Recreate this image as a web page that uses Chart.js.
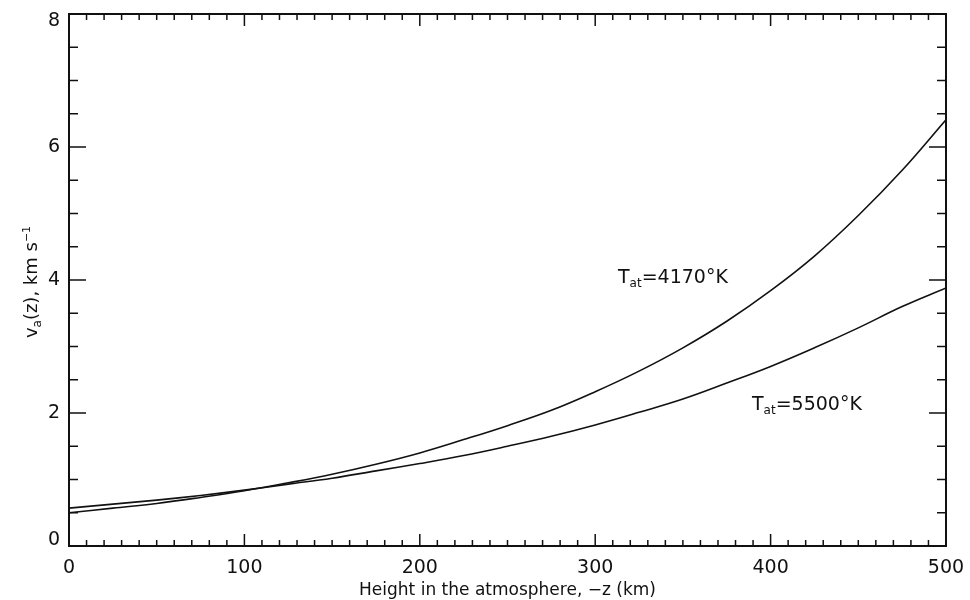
<!DOCTYPE html>
<html>
<head>
<meta charset="utf-8">
<script src="https://cdn.jsdelivr.net/npm/chart.js@4/dist/chart.umd.min.js"></script>
<style>
  html, body { margin: 0; padding: 0; background: #fff; }
  #wrap { width: 970px; height: 600px; }
</style>
</head>
<body>
<div id="wrap"><canvas id="chart" width="970" height="600"></canvas></div>
<script>
// heights (km) and v_a(z) for the two atmosphere temperatures
const heights = [0, 25, 50, 75, 100, 125, 150, 175, 200, 225, 250, 275, 300, 325, 350, 375, 400, 425, 450, 475, 500];
const v4170 = [0.50, 0.57, 0.64, 0.73, 0.83, 0.95, 1.08, 1.23, 1.40, 1.60, 1.81, 2.04, 2.32, 2.63, 2.98, 3.38, 3.84, 4.36, 4.97, 5.65, 6.41];
const v5500 = [0.57, 0.63, 0.69, 0.76, 0.84, 0.93, 1.02, 1.13, 1.24, 1.36, 1.50, 1.65, 1.82, 2.01, 2.21, 2.45, 2.70, 2.98, 3.28, 3.60, 3.88];

const xTicks = [0, 100, 200, 300, 400, 500];
const yTicks = [0, 2, 4, 6, 8];
const xMinorStep = 10;
const yMinorStep = 0.5;

const FONT = '"DejaVu Sans", Verdana, sans-serif';

// draw a run of text pieces: [text, size, dy]
function richText(ctx, x, y, parts) {
  let cx = x;
  parts.forEach(p => {
    ctx.font = p[1] + 'px ' + FONT;
    ctx.fillText(p[0], cx, y + p[2]);
    cx += ctx.measureText(p[0]).width;
  });
  return cx - x;
}
function richWidth(ctx, parts) {
  let w = 0;
  parts.forEach(p => {
    ctx.font = p[1] + 'px ' + FONT;
    w += ctx.measureText(p[0]).width;
  });
  return w;
}

const framePlugin = {
  id: 'frame',
  afterDraw(chart) {
    const ctx = chart.ctx;
    const xs = chart.scales.x, ys = chart.scales.y;
    const a = chart.chartArea;
    ctx.save();
    ctx.strokeStyle = '#111';
    ctx.fillStyle = '#111';

    // box
    ctx.lineWidth = 2;
    ctx.strokeRect(a.left, a.top, a.right - a.left, a.bottom - a.top);

    // x ticks (bottom and top, inward)
    ctx.lineWidth = 1.5;
    ctx.beginPath();
    for (let v = 0; v <= 500; v += xMinorStep) {
      const px = xs.getPixelForValue(v);
      const major = xTicks.includes(v);
      const len = major ? 12 : 6;
      ctx.moveTo(px, a.bottom); ctx.lineTo(px, a.bottom - len);
      ctx.moveTo(px, a.top); ctx.lineTo(px, a.top + len);
    }
    // y ticks (left and right, inward)
    for (let v = 0; v <= 8; v += yMinorStep) {
      const py = ys.getPixelForValue(v);
      const major = yTicks.includes(v);
      const len = major ? 17 : 9;
      ctx.moveTo(a.left, py); ctx.lineTo(a.left + len, py);
      ctx.moveTo(a.right, py); ctx.lineTo(a.right - len, py);
    }
    ctx.stroke();

    // tick labels
    ctx.font = '19px ' + FONT;
    ctx.textBaseline = 'middle';
    ctx.textAlign = 'center';
    xTicks.forEach(v => ctx.fillText(String(v), xs.getPixelForValue(v), a.bottom + 22));
    ctx.textAlign = 'right';
    yTicks.forEach(v => {
      const py = Math.min(Math.max(ys.getPixelForValue(v), a.top + 7), a.bottom - 6);
      ctx.fillText(String(v), a.left - 9, py);
    });

    // axis titles
    ctx.textAlign = 'center';
    ctx.textBaseline = 'alphabetic';
    ctx.font = '17px ' + FONT;
    ctx.fillText('Height in the atmosphere, \u2212z (km)', (a.left + a.right) / 2, 595);

    ctx.save();
    ctx.translate(37, 282);
    ctx.rotate(-Math.PI / 2);
    ctx.textAlign = 'left';
    const yParts = [['v', 18, 0], ['a', 12, 4], ['(z), km s', 18, 0], ['\u22121', 11, -7]];
    richText(ctx, -richWidth(ctx, yParts) / 2, 0, yParts);
    ctx.restore();

    // curve labels
    ctx.textAlign = 'left';
    richText(ctx, 618, 283, [['T', 19, 0], ['at', 12, 4], ['=4170\u00b0K', 19, 0]]);
    richText(ctx, 752, 410, [['T', 19, 0], ['at', 12, 4], ['=5500\u00b0K', 19, 0]]);

    ctx.restore();
  }
};

const pts = arr => heights.map((h, i) => ({ x: h, y: arr[i] }));

new Chart(document.getElementById('chart'), {
  type: 'line',
  data: {
    datasets: [
      { label: 'T_at=4170K', data: pts(v4170), borderColor: '#111', borderWidth: 1.6, pointRadius: 0, tension: 0.4, fill: false },
      { label: 'T_at=5500K', data: pts(v5500), borderColor: '#111', borderWidth: 1.6, pointRadius: 0, tension: 0.4, fill: false }
    ]
  },
  options: {
    responsive: false,
    animation: false,
    layout: { padding: { left: 69, top: 14, right: 24, bottom: 54 } },
    plugins: { legend: { display: false }, tooltip: { enabled: false } },
    scales: {
      x: { type: 'linear', min: 0, max: 500, display: false },
      y: { type: 'linear', min: 0, max: 8, display: false }
    }
  },
  plugins: [framePlugin]
});
</script>
</body>
</html>
